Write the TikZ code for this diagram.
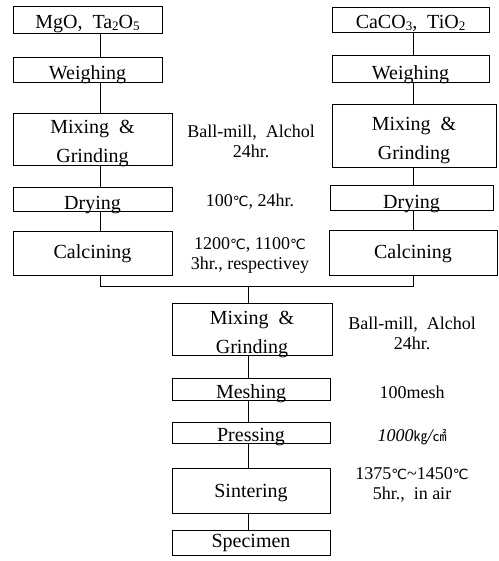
\documentclass[tikz,border=0pt]{standalone}
\usepackage{fontspec}
\setmainfont{Liberation Serif}
\newfontfamily\symfont{DejaVu Sans}
\newfontfamily\cjkfont{Noto Sans CJK KR}
\newcommand{\degc}{{\symfont\fontsize{14}{14}\selectfont ℃}}
\newcommand{\subs}[1]{\raisebox{-1.5pt}{\fontsize{13}{13}\selectfont #1}}
% #1 = vertical shift of the last baseline from the box centre
\newcommand{\lbl}[2]{\raisebox{#1}[0pt][0pt]{\begin{tabular}[b]{@{}c@{}}#2\end{tabular}}}
\begin{document}
\begin{tikzpicture}[x=1pt,y=-1pt,
  stepbox/.style={draw,line width=0.8pt,inner sep=0pt,
    font=\fontsize{20}{29}\selectfont},
  note/.style={inner sep=0pt,align=center,font=\fontsize{18}{20}\selectfont},
  link/.style={line width=0.7pt}]
\useasboundingbox (0,0) rectangle (498,561);
% left column
\node[stepbox,minimum width=149,minimum height=27] (mgo) at (87.5,19.5) {\lbl{-9.5pt}{MgO,\ \ Ta\subs{2}O\subs{5}}};
\node[stepbox,minimum width=149,minimum height=25] (wl) at (87.5,69.5) {\lbl{-10.5pt}{Weighing}};
\node[stepbox,minimum width=159,minimum height=52] (ml) at (92.5,139) {\lbl{-23.5pt}{Mixing\ \ \&\\Grinding}};
\node[stepbox,minimum width=159,minimum height=24] (dl) at (92.5,199) {\lbl{-10.5pt}{Drying}};
\node[stepbox,minimum width=159,minimum height=44] (cl) at (92.5,253) {\lbl{-5pt}{Calcining}};
% right column
\node[stepbox,minimum width=157,minimum height=25] (cac) at (410.5,19.5) {\lbl{-9.5pt}{CaCO\subs{3},\ \ TiO\subs{2}}};
\node[stepbox,minimum width=157,minimum height=27] (wr) at (410.5,68.5) {\lbl{-11.5pt}{Weighing}};
\node[stepbox,minimum width=164,minimum height=63] (mr) at (414,135.5) {\lbl{-24.5pt}{Mixing\ \ \&\\Grinding}};
\node[stepbox,minimum width=163,minimum height=25] (dr) at (411.5,197.5) {\lbl{-10.5pt}{Drying}};
\node[stepbox,minimum width=168,minimum height=45] (cr) at (413,252.5) {\lbl{-5.5pt}{Calcining}};
% bottom column
\node[stepbox,minimum width=160,minimum height=52] (mb) at (252,329) {\lbl{-24pt}{Mixing\ \ \&\\Grinding}};
\node[stepbox,minimum width=158,minimum height=22] (me) at (251,389) {\lbl{-9pt}{Meshing}};
\node[stepbox,minimum width=158,minimum height=21] (pr) at (251,432.5) {\lbl{-8.5pt}{Pressing}};
\node[stepbox,minimum width=158,minimum height=45] (si) at (251,490.5) {\lbl{-6.5pt}{Sintering}};
\node[stepbox,minimum width=158,minimum height=25] (sp) at (251,542.5) {\lbl{-4.5pt}{Specimen}};
% notes
\node[note] (n1) at (251,141) {Ball-mill,\ \ Alchol\\24hr.};
\node[note] (n2) at (250,202) {100\degc,\ 24hr.};
\node[note] (n3) at (250,255) {1200\degc,\ 1100\degc\\3hr.,\ respectivey};
\node[note] (n4) at (412,333) {Ball-mill,\ \ Alchol\\24hr.};
\node[note] (n5) at (412,392) {100mesh};
\node[note] (n6) at (412,437) {\itshape 1000{\cjkfont\fontsize{14}{14}\selectfont ㎏}/{\cjkfont\fontsize{14}{14}\selectfont ㎠}};
\node[note] (n7) at (412,485) {1375\degc\textasciitilde1450\degc\\5hr.,\ \ in air};
% connector x positions
\coordinate (xl) at (100,0);
\coordinate (xr) at (413,0);
\coordinate (xb) at (248,0);
\coordinate (merge) at (0,286);
\draw[link] (mgo.south -| xl) -- (wl.north -| xl);
\draw[link] (wl.south -| xl) -- (ml.north -| xl);
\draw[link] (ml.south -| xl) -- (dl.north -| xl);
\draw[link] (dl.south -| xl) -- (cl.north -| xl);
\draw[link] (cac.south -| xr) -- (wr.north -| xr);
\draw[link] (wr.south -| xr) -- (mr.north -| xr);
\draw[link] (mr.south -| xr) -- (dr.north -| xr);
\draw[link] (dr.south -| xr) -- (cr.north -| xr);
\draw[link] (cl.south -| xl) -- (merge -| xl) -- (merge -| xr) -- (cr.south -| xr);
\draw[link] (merge -| xb) -- (mb.north -| xb);
\draw[link] (mb.south -| xb) -- (me.north -| xb);
\draw[link] (me.south -| xb) -- (pr.north -| xb);
\draw[link] (pr.south -| xb) -- (si.north -| xb);
\draw[link] (si.south -| xb) -- (sp.north -| xb);
\end{tikzpicture}
\end{document}
